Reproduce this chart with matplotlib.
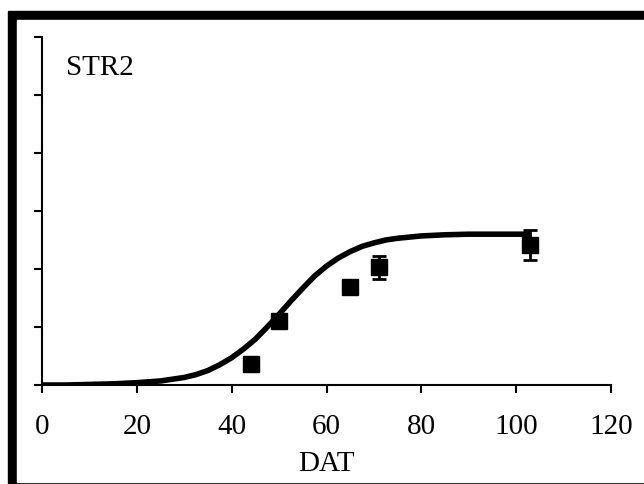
import matplotlib
matplotlib.use("Agg")
import matplotlib.pyplot as plt
from matplotlib.patches import Rectangle

# measured points (days after transplanting) with error bars
obs_day = [44, 50, 65, 71, 103]
obs_val = [0.36, 1.10, 1.69, 2.03, 2.41]
obs_err = [0.0, 0.0, 0.0, 0.20, 0.26]

# fitted curve
curve_day = [0, 5, 10, 15, 20, 25, 27.5, 30, 32.5, 35, 37.5, 40, 42.5, 45,
             47.5, 50, 52.5, 55, 57.5, 60, 62.5, 65, 67.5, 70, 72.5, 75,
             77.5, 80, 85, 90, 95, 100, 103]
curve_val = [0.0, 0.0, 0.01, 0.02, 0.04, 0.07, 0.10, 0.13, 0.18, 0.25, 0.35,
             0.47, 0.62, 0.79, 1.00, 1.22, 1.45, 1.67, 1.88, 2.05, 2.19,
             2.30, 2.39, 2.45, 2.50, 2.53, 2.55, 2.57, 2.59, 2.60, 2.60,
             2.60, 2.60]

x_ticks = [0, 20, 40, 60, 80, 100, 120]
y_ticks = [0, 1, 2, 3, 4, 5, 6]
panel_label = "STR2"

plt.rcParams['font.family'] = ['Liberation Serif', 'DejaVu Serif']

W, H = 644, 485
fig = plt.figure(figsize=(W / 100, H / 100), dpi=100)

# thick border round the panel (top/left heavy, bottom thin)
fig.add_artist(Rectangle((8 / W, 1 - 484 / H), 1, (484 - 12) / H,
                         transform=fig.transFigure, color='black', zorder=0))
fig.add_artist(Rectangle((17 / W, 1 - 482.5 / H), 1, (482.5 - 21) / H,
                         transform=fig.transFigure, color='white', zorder=0))

ax = fig.add_axes([42 / W, (H - 386) / H, 569 / W, 348 / H])
ax.patch.set_visible(False)

ax.plot(curve_day, curve_val, color='black', lw=4, solid_capstyle='butt',
        solid_joinstyle='round', zorder=2)
ax.errorbar(obs_day, obs_val, yerr=obs_err, fmt='s', color='black', ms=11,
            elinewidth=2, capsize=5, capthick=2, zorder=3)

ax.set_xlim(0, 120)
ax.set_ylim(0, 6)
ax.set_xticks(x_ticks)
ax.set_yticks(y_ticks)
ax.set_yticklabels([])
for s in ['top', 'right']:
    ax.spines[s].set_visible(False)
for s in ['left', 'bottom']:
    ax.spines[s].set_linewidth(1.5)
    ax.spines[s].set_color('black')
ax.tick_params(axis='both', direction='out', length=6, width=1.5, color='black')
ax.tick_params(axis='x', labelsize=21, pad=14)
ax.set_xlabel("DAT", fontsize=21, labelpad=8)

ax.text(5, 5.36, panel_label, fontsize=21, va='baseline', ha='left')

fig.savefig("out.png", dpi=100)
